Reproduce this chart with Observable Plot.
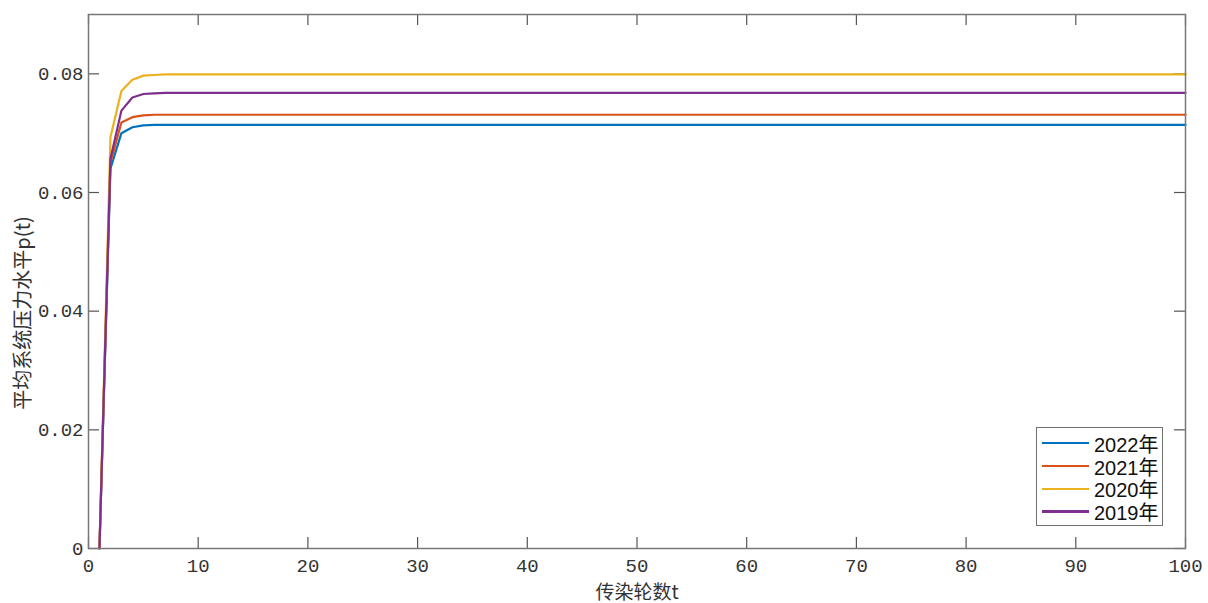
<!DOCTYPE html>
<html><head><meta charset="utf-8">
<script src="https://cdn.jsdelivr.net/npm/d3@7"></script>
<script src="https://cdn.jsdelivr.net/npm/@observablehq/plot@0.6"></script>
<style>
body{margin:0;background:#fff;}
#wrap{position:relative;width:1208px;height:603px;}
#legend{position:absolute;left:1036px;top:427px;width:127px;height:99px;border:1px solid #707070;background:#fff;
  font-family:"Liberation Sans","Noto Sans CJK SC",sans-serif;font-size:20px;color:#111;padding-top:4px;box-sizing:border-box;white-space:nowrap;}
.row{display:flex;align-items:center;height:22.7px;white-space:nowrap;}
.sw{width:47px;height:2.2px;margin-left:5px;margin-right:5px;flex:none;}
#ylab{position:absolute;left:22px;top:313px;transform:translate(-50%,-50%) rotate(-90deg);white-space:nowrap;
  font-family:"Noto Sans CJK SC",sans-serif;font-size:20px;color:#333;line-height:1;}
</style></head>
<body><div id="wrap"><div id="chart"></div><div id="ylab"></div><div id="legend"></div></div>
<script>
const rounds = [1, 2, 3, 4, 5, 6, 7, 8, 100];
const p2022 = [0, 0.0640, 0.0700, 0.0710, 0.0713, 0.0714, 0.0714, 0.0714, 0.0714];
const p2021 = [0, 0.0650, 0.0718, 0.0727, 0.0730, 0.0731, 0.0731, 0.0731, 0.0731];
const p2020 = [0, 0.0693, 0.0771, 0.0790, 0.0797, 0.0798, 0.0799, 0.0799, 0.0799];
const p2019 = [0, 0.0657, 0.0738, 0.0760, 0.0766, 0.0767, 0.0768, 0.0768, 0.0768];
const seriesNames = ["2022年", "2021年", "2020年", "2019年"];
const seriesColors = ["#0072BD", "#D95319", "#EDB120", "#7E2F8E"];
const xTicks = [0, 10, 20, 30, 40, 50, 60, 70, 80, 90, 100];
const yTicks = [0, 0.02, 0.04, 0.06, 0.08];
const xLabel = "传染轮数t";
const yLabel = "平均系统压力水平p(t)";

const allSeries = [p2022, p2021, p2020, p2019];
const data = allSeries.flatMap((vals, i) => rounds.map((t, j) => ({t, p: vals[j], s: seriesNames[i]})));

const W = 1208, H = 603, ML = 88, MR = 23, MT = 14, MB = 55;
const FW = W - ML - MR, FH = H - MT - MB, TL = 11;
const mono = "'Liberation Mono','Courier New',monospace";
const cjk = "'Noto Sans CJK SC',sans-serif";

const chart = Plot.plot({
  width: W, height: H, marginLeft: ML, marginRight: MR, marginTop: MT, marginBottom: MB,
  style: {background: "#fff"},
  x: {domain: [0, 100]},
  y: {domain: [0, 0.09]},
  color: {domain: seriesNames, range: seriesColors},
  marks: [
    Plot.axisX(xTicks, {tickSize: 0, tickPadding: 10, fontFamily: mono, fontSize: 19, fill: "#333", label: null, tickFormat: d => String(d)}),
    Plot.axisY(yTicks, {tickSize: 0, tickPadding: 5, fontFamily: mono, fontSize: 19, fill: "#333", label: null, tickFormat: d => d === 0 ? "0" : d.toFixed(2)}),
    Plot.tickX(xTicks, {x: d => d, insetTop: FH - TL, stroke: "#555", strokeWidth: 1.2}),
    Plot.tickX(xTicks, {x: d => d, insetBottom: FH - TL, stroke: "#555", strokeWidth: 1.2}),
    Plot.tickY(yTicks, {y: d => d, insetRight: FW - TL, stroke: "#555", strokeWidth: 1.2}),
    Plot.tickY(yTicks, {y: d => d, insetLeft: FW - TL, stroke: "#555", strokeWidth: 1.2}),
    Plot.line(data, {x: "t", y: "p", z: "s", stroke: "s", strokeWidth: 2.2}),
    Plot.frame({stroke: "#777", strokeWidth: 1.5}),
    Plot.text([xLabel], {text: d => d, frameAnchor: "bottom", dy: 50, fontFamily: cjk, fontSize: 19, fill: "#333"})
  ]
});
document.getElementById("chart").appendChild(chart);
document.getElementById("ylab").textContent = yLabel;

const leg = document.getElementById("legend");
seriesNames.forEach((n, i) => {
  const r = document.createElement("div"); r.className = "row";
  const sw = document.createElement("div"); sw.className = "sw"; sw.style.background = seriesColors[i];
  const tx = document.createElement("span"); tx.textContent = n;
  r.appendChild(sw); r.appendChild(tx); leg.appendChild(r);
});
</script></body></html>
